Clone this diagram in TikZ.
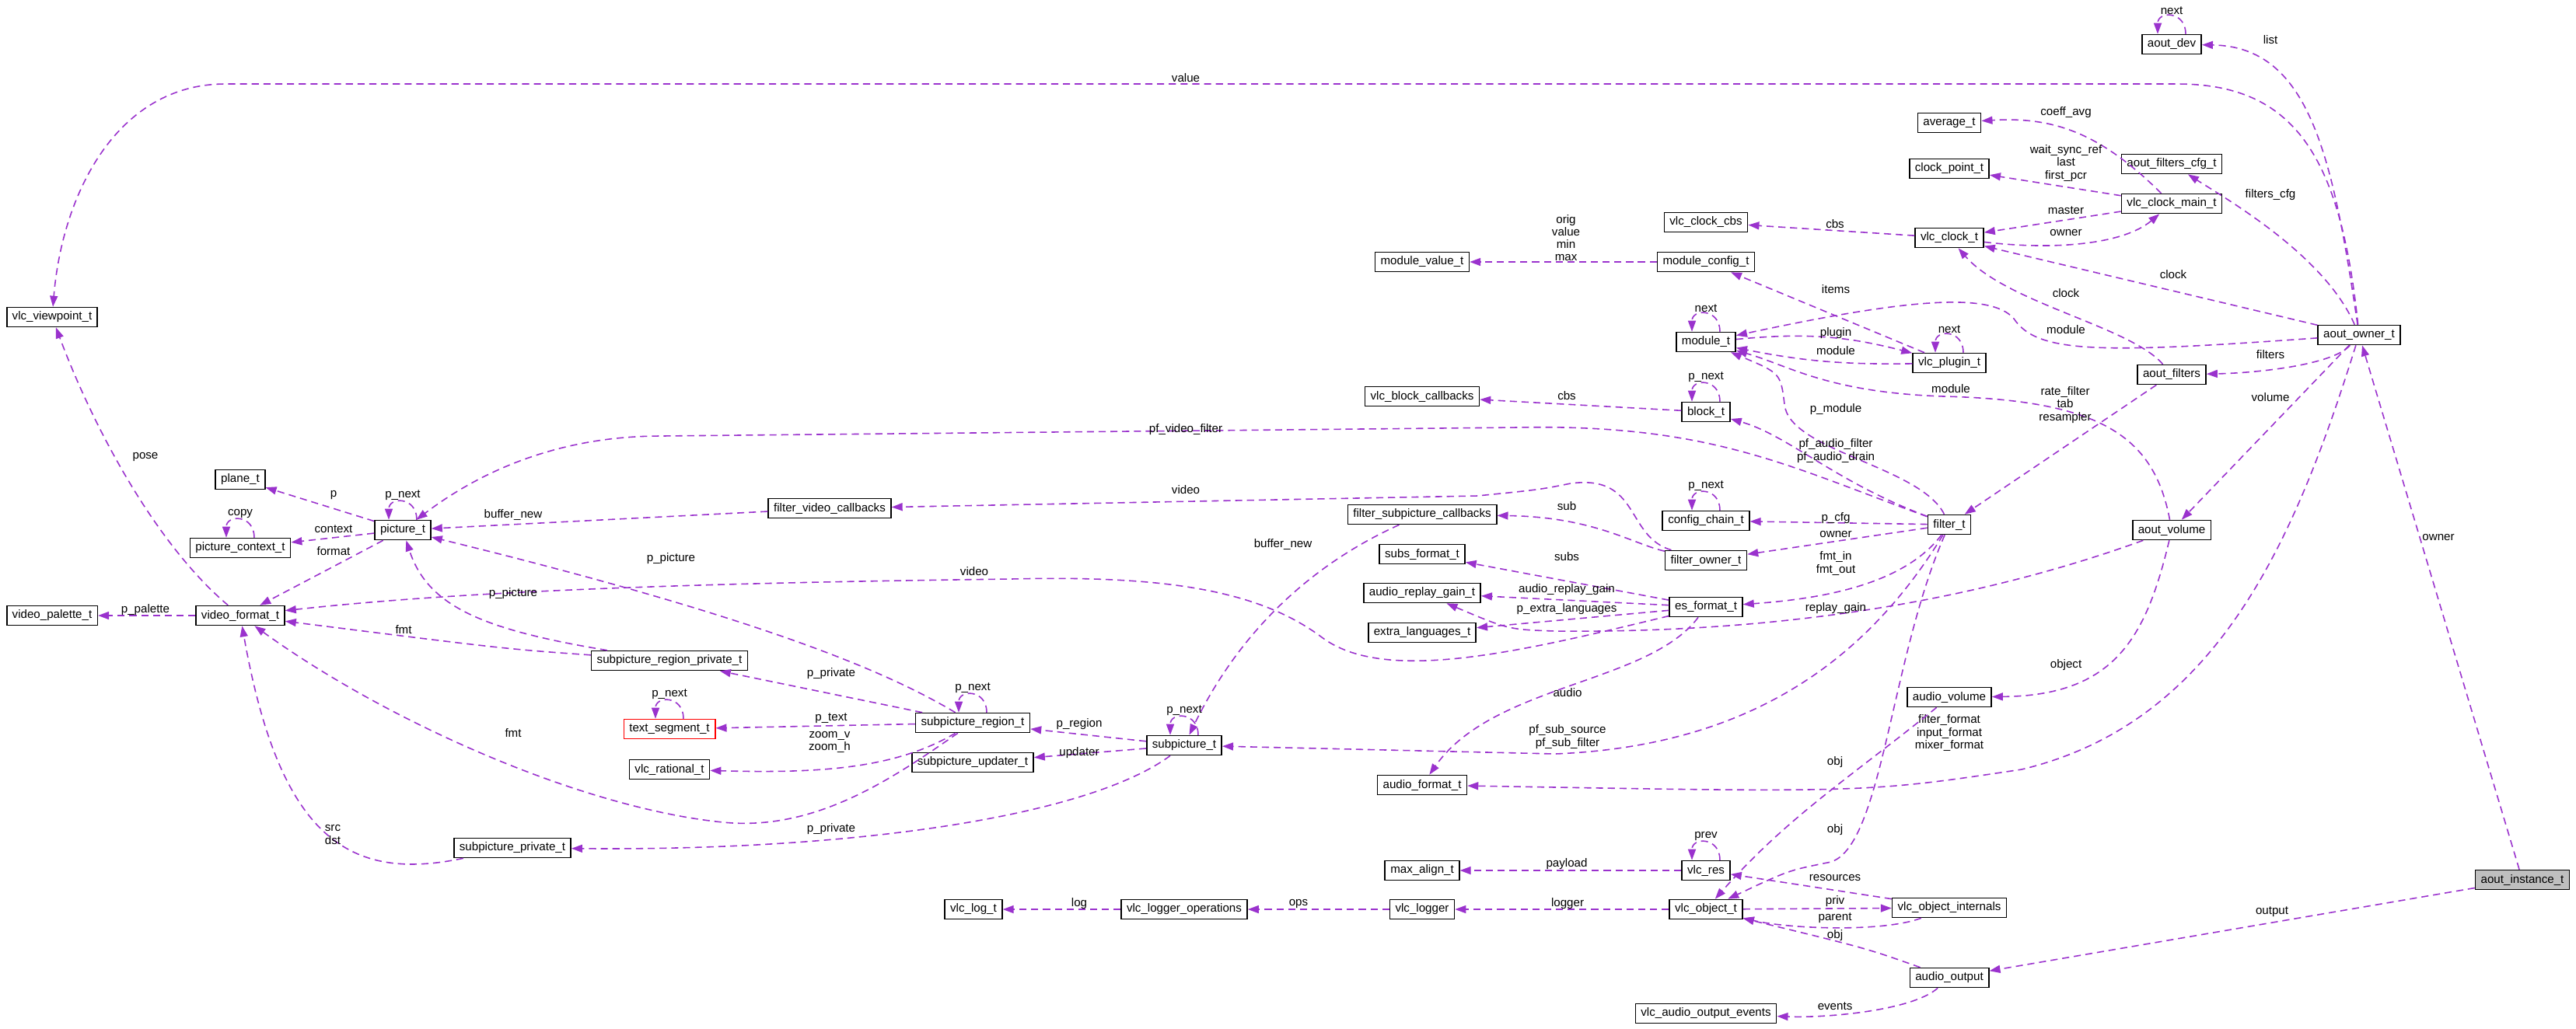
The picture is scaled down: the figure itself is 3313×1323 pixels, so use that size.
\documentclass[tikz,border=0pt]{standalone}
\usepackage{fontspec}
\setmainfont{Liberation Sans}
\usetikzlibrary{arrows.meta,positioning,calc}
\definecolor{edgecol}{HTML}{9A32CD}
\tikzstyle{cls} = [draw=black, line width=0.45pt, font=\fontsize{4.3}{5}\selectfont, inner xsep=0.07cm, inner ysep=0pt, minimum height=0.25cm]
\tikzstyle{ref} = [edgecol, line width=0.45pt, dash pattern=on 2.6pt off 1.7pt, ->, >={Stealth[length=1.4mm,width=1mm,inset=0pt]}]
\tikzstyle{lbl} = [font=\fontsize{4.3}{4.6}\selectfont, text=black, align=center, inner sep=0.5pt]
\newcommand{\selfref}[2]{\draw[ref] ([xshift=0.18cm]#1.north) .. controls +(0,-30) and +(0,-30) .. node[lbl,above=0pt]{#2} ([xshift=-0.18cm]#1.north);}

\begin{document}
\begin{tikzpicture}[x=0.01cm,y=-0.01cm]
  \useasboundingbox (0,0) rectangle (3313,1323);

  % left part
  \node[cls] (vpt) at (67,408) {vlc\_viewpoint\_t};
  \node[cls] (vpal) at (67,792) {video\_palette\_t};
  \node[cls] (vfmt) at (309,792) {video\_format\_t};
  \node[cls] (plane) at (309,617) {plane\_t};
  \node[cls] (pctx) at (309,705) {picture\_context\_t};
  \node[cls] (pict) at (518,682) {picture\_t};
  \node[cls] (fvcb) at (1067,654) {filter\_video\_callbacks};
  \node[cls] (srpriv) at (861,850) {subpicture\_region\_private\_t};
  \node[cls, draw=red] (tseg) at (861,938) {text\_segment\_t};
  \node[cls] (vrat) at (861,990) {vlc\_rational\_t};
  \node[cls] (spriv) at (659,1091) {subpicture\_private\_t};
  \node[cls] (sreg) at (1251,930) {subpicture\_region\_t};
  \node[cls] (supd) at (1251,981) {subpicture\_updater\_t};
  \node[cls] (subp) at (1523,959) {subpicture\_t};
  \node[cls] (vlogt) at (1252,1170) {vlc\_log\_t};
  \node[cls] (vlops) at (1523,1170) {vlc\_logger\_operations};

  % right part
  \node[cls] (adev) at (2793,57) {aout\_dev};
  \node[cls] (avg) at (2507,158) {average\_t};
  \node[cls] (cpt) at (2507,217) {clock\_point\_t};
  \node[cls] (afcfg) at (2793,211) {aout\_filters\_cfg\_t};
  \node[cls] (vcm) at (2793,262) {vlc\_clock\_main\_t};
  \node[cls] (vcbs) at (2194,286) {vlc\_clock\_cbs};
  \node[cls] (vclk) at (2507,306) {vlc\_clock\_t};
  \node[cls] (mval) at (1829,337) {module\_value\_t};
  \node[cls] (mcfg) at (2194,337) {module\_config\_t};
  \node[cls] (modt) at (2194,440) {module\_t};
  \node[cls] (vplug) at (2507,467) {vlc\_plugin\_t};
  \node[cls] (aowner) at (3034,431) {aout\_owner\_t};
  \node[cls] (afilt) at (2793,482) {aout\_filters};
  \node[cls] (vbcb) at (1829,510) {vlc\_block\_callbacks};
  \node[cls] (blk) at (2194,530) {block\_t};
  \node[cls] (cchain) at (2194,670) {config\_chain\_t};
  \node[cls] (filt) at (2507,675) {filter\_t};
  \node[cls] (fscb) at (1829,662) {filter\_subpicture\_callbacks};
  \node[cls] (fown) at (2194,721) {filter\_owner\_t};
  \node[cls] (avol) at (2793,682) {aout\_volume};
  \node[cls] (subs) at (1829,713) {subs\_format\_t};
  \node[cls] (arg) at (1829,763) {audio\_replay\_gain\_t};
  \node[cls] (esf) at (2194,781) {es\_format\_t};
  \node[cls] (exl) at (1829,814) {extra\_languages\_t};
  \node[cls] (auvol) at (2507,897) {audio\_volume};
  \node[cls] (afmt) at (1829,1010) {audio\_format\_t};
  \node[cls] (maxal) at (1829,1120) {max\_align\_t};
  \node[cls] (vres) at (2194,1120) {vlc\_res};
  \node[cls] (vlogger) at (1829,1170) {vlc\_logger};
  \node[cls] (vobj) at (2194,1170) {vlc\_object\_t};
  \node[cls] (vobjint) at (2507,1168) {vlc\_object\_internals};
  \node[cls, fill=black!25] (ainst) at (3244,1132) {aout\_instance\_t};
  \node[cls] (aout) at (2507,1258) {audio\_output};
  \node[cls] (vaoe) at (2194,1304) {vlc\_audio\_output\_events};

  % self references
  \selfref{adev}{next}
  \selfref{modt}{next}
  \selfref{vplug}{next}
  \selfref{blk}{p\_next}
  \selfref{cchain}{p\_next}
  \selfref{pict}{p\_next}
  \selfref{pctx}{copy}
  \selfref{tseg}{p\_next}
  \selfref{sreg}{p\_next}
  \selfref{subp}{p\_next}
  \selfref{vres}{prev}

  % aout_owner_t members
  \draw[ref] (aowner) .. controls (3010,200) and (2950,108) .. (2800,108) -- (290,108)
    .. controls (150,108) and (80,250) .. (vpt) node[lbl, at={(1525,100)}] {value};
  \draw[ref] (aowner) .. controls (3000,200) and (2970,60) .. (adev) node[lbl, at={(2920,51)}] {list};
  \draw[ref] (aowner) .. controls (2990,330) and (2870,260) .. (afcfg) node[lbl, at={(2920,251)}] {filters\_cfg};
  \draw[ref] (aowner) -- (vclk) node[lbl, at={(2795,353)}] {clock};
  \draw[ref] (aowner) .. controls (2700,455) and (2620,455) .. (2590,410)
    .. controls (2560,375) and (2450,385) .. (modt) node[lbl, at={(2657,424)}] {module};
  \draw[ref] (aowner) .. controls (3000,470) and (2900,480) .. (afilt) node[lbl, at={(2920,456)}] {filters};
  \draw[ref] (aowner) -- (avol) node[lbl, at={(2920,511)}] {volume};
  \draw[ref] (aowner) .. controls (2950,700) and (2850,930) .. (2600,990)
    .. controls (2400,1020) .. (afmt) node[lbl, at={(2507,943)}] {filter\_format\\input\_format\\mixer\_format};
  \draw[ref] (ainst) -- (aowner) node[lbl, at={(3136,691)}] {owner};
  \draw[ref] (ainst) -- (aout) node[lbl, at={(2922,1173)}] {output};

  % clocks and modules
  \draw[ref] (vcm) .. controls (2700,170) and (2640,150) .. (avg) node[lbl, at={(2657,145)}] {coeff\_avg};
  \draw[ref] (vcm) -- (cpt) node[lbl, at={(2657,210)}] {wait\_sync\_ref\\last\\first\_pcr};
  \draw[ref] (vcm) -- (vclk) node[lbl, at={(2657,271)}] {master};
  \draw[ref] (vclk) .. controls (2640,322) and (2730,315) .. (vcm) node[lbl, at={(2657,299)}] {owner};
  \draw[ref] (vclk) -- (vcbs) node[lbl, at={(2360,288)}] {cbs};
  \draw[ref] (afilt) .. controls (2740,420) and (2580,390) .. (vclk) node[lbl, at={(2657,377)}] {clock};
  \draw[ref] (mcfg) -- (mval) node[lbl, at={(2014,306)}] {orig\\value\\min\\max};
  \draw[ref] (vplug) -- (mcfg) node[lbl, at={(2361,372)}] {items};
  \draw[ref] (modt) to[bend left=10] (vplug) node[lbl, at={(2361,429)}] {plugin};
  \draw[ref] (vplug) to[bend left=6] (modt) node[lbl, at={(2361,451)}] {module};
  \draw[ref] (avol) .. controls (2770,560) and (2700,515) .. (2500,510)
    .. controls (2350,505) and (2300,470) .. (modt) node[lbl, at={(2509,500)}] {module};
  \draw[ref] (afilt) -- (filt) node[lbl, at={(2656,521)}] {rate\_filter\\tab\\resampler};

  % filter_t members
  \draw[ref] (filt) .. controls (2470,600) and (2300,580) .. (2295,520)
    .. controls (2290,480) .. (modt) node[lbl, at={(2361,527)}] {p\_module};
  \draw[ref] (blk) -- (vbcb) node[lbl, at={(2015,509)}] {cbs};
  \draw[ref] (filt) .. controls (2360,620) and (2300,560) .. (blk) node[lbl, at={(2361,580)}] {pf\_audio\_filter\\pf\_audio\_drain};
  \draw[ref] (filt) .. controls (2300,600) and (2200,545) .. (1950,550) -- (850,561)
    .. controls (700,561) and (600,620) .. (pict) node[lbl, at={(1525,553)}] {pf\_video\_filter};
  \draw[ref] (filt) -- (cchain) node[lbl, at={(2361,667)}] {p\_cfg};
  \draw[ref] (filt) -- (fown) node[lbl, at={(2361,687)}] {owner};
  \draw[ref] (filt) .. controls (2450,750) and (2350,770) .. (esf) node[lbl, at={(2361,725)}] {fmt\_in\\fmt\_out};
  \draw[ref] (filt) .. controls (2400,850) and (2250,960) .. (2000,970) -- (subp) node[lbl, at={(2016,948)}] {pf\_sub\_source\\pf\_sub\_filter};
  \draw[ref] (filt) .. controls (2430,850) and (2420,1100) .. (2350,1110)
    .. controls (2300,1120) .. (vobj) node[lbl, at={(2360,1068)}] {obj};
  \draw[ref] (fown) .. controls (2090,690) and (2110,610) .. (2020,622)
    .. controls (1980,630) .. (1900,638) -- (fvcb) node[lbl, at={(1525,630)}] {video};
  \draw[ref] (fown) .. controls (2100,700) and (2050,665) .. (fscb) node[lbl, at={(2015,651)}] {sub};

  % es_format_t members
  \draw[ref] (esf) -- (subs) node[lbl, at={(2015,716)}] {subs};
  \draw[ref] (esf) -- (arg) node[lbl, at={(2015,759)}] {audio\_replay\_gain};
  \draw[ref] (esf) -- (exl) node[lbl, at={(2015,784)}] {p\_extra\_languages};
  \draw[ref] (esf) .. controls (1950,840) and (1780,880) .. (1700,820)
    .. controls (1620,760) and (1500,740) .. (1300,745)
    .. controls (900,750) and (600,760) .. (vfmt) node[lbl, at={(1253,735)}] {video};
  \draw[ref] (esf) .. controls (2120,880) and (1920,880) .. (afmt) node[lbl, at={(2016,891)}] {audio};
  \draw[ref] (avol) .. controls (2550,770) and (2300,815) .. (2000,812)
    .. controls (1940,810) .. (arg) node[lbl, at={(2361,783)}] {replay\_gain};
  \draw[ref] (avol) .. controls (2760,820) and (2720,895) .. (auvol) node[lbl, at={(2657,856)}] {object};

  % subpictures
  \draw[ref] (fscb) .. controls (1700,720) and (1600,800) .. (subp) node[lbl, at={(1650,700)}] {buffer\_new};
  \draw[ref] (subp) -- (sreg) node[lbl, at={(1388,932)}] {p\_region};
  \draw[ref] (subp) -- (supd) node[lbl, at={(1388,969)}] {updater};
  \draw[ref] (subp) .. controls (1400,1050) and (1100,1095) .. (spriv) node[lbl, at={(1069,1067)}] {p\_private};
  \draw[ref] (sreg) -- (srpriv) node[lbl, at={(1069,867)}] {p\_private};
  \draw[ref] (sreg) -- (tseg) node[lbl, at={(1069,924)}] {p\_text};
  \draw[ref] (sreg) .. controls (1150,990) and (1050,995) .. (vrat) node[lbl, at={(1067,955)}] {zoom\_v\\zoom\_h};
  \draw[ref] (sreg) .. controls (1150,870) and (1000,800) .. (pict) node[lbl, at={(863,719)}] {p\_picture};
  \draw[ref] (sreg) .. controls (1150,1000) and (1050,1070) .. (930,1058)
    .. controls (750,1040) and (500,930) .. (vfmt) node[lbl, at={(660,943)}] {fmt};
  \draw[ref] (srpriv) .. controls (620,810) and (550,780) .. (pict) node[lbl, at={(660,764)}] {p\_picture};
  \draw[ref] (srpriv) .. controls (650,835) .. (vfmt) node[lbl, at={(519,810)}] {fmt};
  \draw[ref] (spriv) .. controls (450,1135) and (360,1080) .. (vfmt) node[lbl, at={(428,1074)}] {src\\dst};

  % pictures and video formats
  \draw[ref] (fvcb) -- (pict) node[lbl, at={(660,662)}] {buffer\_new};
  \draw[ref] (pict) -- (plane) node[lbl, at={(429,637)}] {p};
  \draw[ref] (pict) -- (pctx) node[lbl, at={(429,681)}] {context};
  \draw[ref] (pict) -- (vfmt) node[lbl, at={(429,709)}] {format};
  \draw[ref] (vfmt) -- (vpal) node[lbl, at={(187,785)}] {p\_palette};
  \draw[ref] (vfmt) .. controls (200,700) and (120,550) .. (vpt) node[lbl, at={(187,588)}] {pose};

  % objects and logging
  \draw[ref] (vres) -- (maxal) node[lbl, at={(2015,1112)}] {payload};
  \draw[ref] (vobj) -- (vlogger) node[lbl, at={(2016,1163)}] {logger};
  \draw[ref] (vlogger) -- (vlops) node[lbl, at={(1670,1163)}] {ops};
  \draw[ref] (vlops) -- (vlogt) node[lbl, at={(1388,1163)}] {log};
  \draw[ref] (vobj) -- (vobjint) node[lbl, at={(2360,1160)}] {priv};
  \draw[ref] (vobjint) .. controls (2420,1200) and (2300,1195) .. (vobj) node[lbl, at={(2360,1181)}] {parent};
  \draw[ref] (vobjint) -- (vres) node[lbl, at={(2360,1129)}] {resources};
  \draw[ref] (auvol) .. controls (2380,1000) and (2300,1050) .. (vobj) node[lbl, at={(2360,981)}] {obj};
  \draw[ref] (aout) .. controls (2400,1220) .. (vobj) node[lbl, at={(2360,1204)}] {obj};
  \draw[ref] (aout) .. controls (2460,1300) and (2350,1310) .. (vaoe) node[lbl, at={(2360,1295)}] {events};
\end{tikzpicture}
\end{document}
